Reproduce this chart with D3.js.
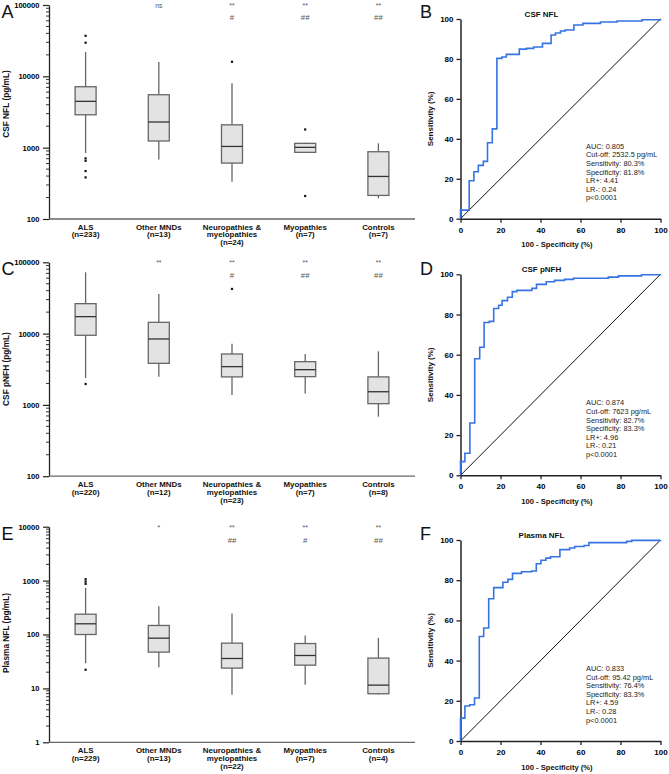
<!DOCTYPE html>
<html><head><meta charset="utf-8">
<script src="https://cdn.jsdelivr.net/npm/d3@7"></script>
<style>
body{margin:0;background:#fff;}
svg{display:block;font-family:"Liberation Sans",Arial,sans-serif;}
</style></head>
<body>
<svg id="chart" width="669" height="774"></svg>
<script>
// ---------- DATA ----------
const categoryLines = [["ALS"],["Other MNDs"],["Neuropathies &","myelopathies"],["Myopathies"],["Controls"]];
const nCsfNfl   = ["(n=233)","(n=13)","(n=24)","(n=7)","(n=7)"];
const nCsfPnfh  = ["(n=220)","(n=12)","(n=23)","(n=7)","(n=8)"];
const nPlasmaNfl= ["(n=229)","(n=13)","(n=22)","(n=7)","(n=4)"];

// [whisker low, Q1, median, Q3, whisker high]
const csfNflBoxes = [[840,2890,4460,7150,21900],[685,1240,2290,5520,15900],[333,608,1040,2090,7980],[850,860,1010,1150,1170],[195,214,395,877,1150]];
const csfNflOutliers = [[37000,29600,708,655,470,383],[],[16000],[1800,210],[]];
const csfPnfhBoxes = [[2380,9470,17300,26300,72400],[2490,3830,8410,14400,36000],[1380,2470,3440,5180,7230],[1440,2490,3120,4040,5180],[684,1040,1530,2470,5650]];
const csfPnfhOutliers = [[1965],[],[42300],[],[]];
const plasmaNflBoxes = [[29.4,100,158,238,731],[24.8,47.1,85.5,147,335],[7.64,23.8,35.9,69.1,245],[11.7,27,40.8,68,95.8],[7.7,7.96,11.5,36.5,86.7]];
const plasmaNflOutliers = [[1060,960,870,22.2],[],[],[],[]];

const sigStarsA = ["","ns","**","**","**"], sigHashA = ["","","#","##","##"];
const sigStarsC = ["","**","**","**","**"], sigHashC = ["","","#","##","##"];
const sigStarsE = ["","*","**","**","**"],  sigHashE = ["","","##","#","##"];

const ticksCsf = [100,1000,10000,100000];
const ticksPlasma = [1,10,100,1000,10000];

// ROC step points (100 - specificity, sensitivity)
const rocCsfNflFpr = [0,0,4.35,6.7,8.9,11.4,13.5,15.9,18.2,20.7,22.9,29.4,33,36.6,41,45.3,47.5,50,52.3,56.7,61.2,70,78.3,90.8,100];
const rocCsfNflTpr = [0,4.3,19,23.5,26.7,28.7,38,45,80.3,81,82.3,84.9,85.3,86,87.8,92,93,94,94.5,97,97.8,98.5,99,99.6,100];
const rocCsfPnfhFpr = [0,0,2.2,4.7,7.1,9.6,11.8,14.4,16.6,19.1,20.8,23.5,25.9,28.2,35.7,38,42.9,47,52,56.5,73.9,79,90.5,100];
const rocCsfPnfhTpr = [0,6.8,11,26,58,63.7,76,76.6,83,84.6,86.9,88.6,91.4,92,93,95,96.3,97,97.5,98,98.6,99.2,99.8,100];
const rocPlasmaNflFpr = [0,0,2.2,4.6,7,9.4,11.6,14.1,16.6,21.2,23.7,26,30.5,35.6,37.9,40.2,42.7,45,49.7,54.6,57.1,61.8,64.2,83.1,85.6,100];
const rocPlasmaNflTpr = [0,11.4,17.4,18,21.4,52,56.2,70.8,76.3,79,80.4,83.4,84.2,84.6,88.2,89.9,91,91.7,95.2,96,96.8,97.3,98.7,99.3,99.8,100];
const rocTicks = [0,20,40,60,80,100];

const statsCsfNfl = ["AUC: 0.805","Cut-off: 2532.5 pg/mL","Sensitivity: 80.3%","Specificity: 81.8%","LR+: 4.41","LR-: 0.24","p<0.0001"];
const statsCsfPnfh = ["AUC: 0.874","Cut-off: 7623 pg/mL","Sensitivity: 82.7%","Specificity: 83.3%","LR+: 4.96","LR-: 0.21","p<0.0001"];
const statsPlasmaNfl = ["AUC: 0.833","Cut-off: 95.42 pg/mL","Sensitivity: 76.4%","Specificity: 83.3%","LR+: 4.59","LR-: 0.28","p<0.0001"];

// ---------- DRAW ----------
const svg = d3.select("#chart");

function boxPanel(o){
  const g = svg.append("g");
  const x = d3.scaleBand().domain(d3.range(5)).range([49,415]);
  const y = d3.scaleLog().domain(o.domain).range([o.bottom,o.top]);
  const bw = 21;
  const minors = [];
  for(let d=o.domain[0]; d<o.domain[1]; d*=10){ for(let k=2;k<10;k++) minors.push(d*k); }
  g.selectAll(".minor").data(minors).join("line")
    .attr("x1",46).attr("x2",49).attr("y1",d=>y(d)).attr("y2",d=>y(d))
    .attr("stroke","#333").attr("stroke-width",1);
  const ya = d3.axisLeft(y).tickValues(o.ticks).tickFormat(d3.format("d")).tickSize(6).tickSizeOuter(0);
  const ag = g.append("g").attr("transform","translate(49,0)").call(ya);
  ag.select(".domain").attr("stroke","#222").attr("stroke-width",1.3);
  ag.selectAll(".tick line").attr("stroke","#222").attr("stroke-width",1.2);
  ag.selectAll("text").attr("font-size",7.6).attr("font-weight","bold").attr("fill","#000").attr("dx",-0.5);
  g.append("line").attr("x1",49).attr("x2",415).attr("y1",o.bottom).attr("y2",o.bottom)
    .attr("stroke","#666").attr("stroke-width",1.3);
  categoryLines.forEach((lines,i)=>{
    const all = lines.concat([o.ns[i]]);
    all.forEach((t,j)=>{
      g.append("text").attr("x",x(i)+x.bandwidth()/2).attr("y",o.bottom+10.5+j*7.9)
        .attr("text-anchor","middle").attr("font-size",7.9).attr("font-weight","bold").attr("fill","#111").text(t);
    });
  });
  o.boxes.forEach((b,i)=>{
    const cx = x(i)+x.bandwidth()/2;
    const [lo,q1,md,q3,hi] = b;
    g.append("line").attr("x1",cx).attr("x2",cx).attr("y1",y(hi)).attr("y2",y(q3)).attr("stroke","#666").attr("stroke-width",1.3);
    g.append("line").attr("x1",cx).attr("x2",cx).attr("y1",y(q1)).attr("y2",y(lo)).attr("stroke","#666").attr("stroke-width",1.3);
    g.append("rect").attr("x",cx-bw/2).attr("width",bw).attr("y",y(q3)).attr("height",y(q1)-y(q3))
      .attr("fill","#e3e3e3").attr("stroke","#666").attr("stroke-width",1.3);
    g.append("line").attr("x1",cx-bw/2).attr("x2",cx+bw/2).attr("y1",y(md)).attr("y2",y(md)).attr("stroke","#333").attr("stroke-width",1.3);
    o.outliers[i].forEach(v=>{
      g.append("rect").attr("x",cx-1.1).attr("y",y(v)-1.1).attr("width",2.2).attr("height",2.2).attr("fill","#111");
    });
    g.append("text").attr("x",cx).attr("y",o.top+2.5+o.starDy).attr("text-anchor","middle").attr("font-size",6.8).attr("fill","#555").text(o.stars[i]);
    g.append("text").attr("x",cx).attr("y",o.top+2.5+o.starDy+12.7).attr("text-anchor","middle").attr("font-size",7.8).attr("fill","#555").text(o.hashes[i]);
  });
  g.append("text").attr("transform",`translate(9,${o.labelY}) rotate(-90)`).attr("text-anchor","middle")
    .attr("font-size",8.3).attr("font-weight","bold").attr("fill","#111").text(o.ylabel);
  svg.append("text").attr("x",1.5).attr("y",o.top+13).attr("font-size",18).attr("fill","#111").text(o.letter);
}

function rocPanel(o){
  const g = svg.append("g");
  const x = d3.scaleLinear().domain([0,100]).range([460.5,660.5]);
  const y = d3.scaleLinear().domain([0,100]).range([o.bottom,o.top]);
  const xa = d3.axisBottom(x).tickValues(rocTicks).tickSize(4).tickSizeOuter(0);
  const ya = d3.axisLeft(y).tickValues(rocTicks).tickSize(4).tickSizeOuter(0);
  const xg = g.append("g").attr("transform",`translate(0,${o.bottom})`).call(xa);
  const yg = g.append("g").attr("transform","translate(460.5,0)").call(ya);
  [xg,yg].forEach(a=>{
    a.select(".domain").attr("stroke","#222").attr("stroke-width",1.5);
    a.selectAll(".tick line").attr("stroke","#222").attr("stroke-width",1.3);
    a.selectAll("text").attr("font-size",8).attr("font-weight","bold").attr("fill","#000");
  });
  xg.selectAll("text").attr("dy","0.9em");
  g.append("line").attr("x1",x(0)).attr("y1",y(0)).attr("x2",x(100)).attr("y2",y(100)).attr("stroke","#111").attr("stroke-width",1);
  const pts = o.fpr.map((v,i)=>[v,o.tpr[i]]);
  g.append("path").datum(pts).attr("d",d3.line().x(d=>x(d[0])).y(d=>y(d[1])).curve(d3.curveStepAfter))
    .attr("fill","none").attr("stroke","#3673e3").attr("stroke-width",1.6);
  g.append("text").attr("x",541.5).attr("y",o.top-2).attr("text-anchor","middle").attr("font-size",8)
    .attr("font-weight","bold").attr("fill","#111").text(o.title);
  g.append("text").attr("x",557).attr("y",o.bottom+28.5).attr("text-anchor","middle").attr("font-size",7.6)
    .attr("font-weight","bold").attr("fill","#111").text("100 - Specificity (%)");
  g.append("text").attr("transform",`translate(433,${(o.top+o.bottom)/2}) rotate(-90)`).attr("text-anchor","middle")
    .attr("font-size",8).attr("font-weight","bold").attr("fill","#111").text("Sensitivity (%)");
  o.stats.forEach((t,i)=>{
    g.append("text").attr("x",586).attr("y",o.bottom-70+i*8.6).attr("font-size",7.4).attr("fill","#222").text(t);
  });
  svg.append("text").attr("x",420).attr("y",o.letterY).attr("font-size",18).attr("fill","#111").text(o.letter);
}

boxPanel({letter:"A",top:5,bottom:219,domain:[100,100000],ticks:ticksCsf,boxes:csfNflBoxes,outliers:csfNflOutliers,
  ns:nCsfNfl,stars:sigStarsA,hashes:sigHashA,starDy:0,ylabel:"CSF NFL (pg/mL)",labelY:104});
boxPanel({letter:"C",top:262.3,bottom:476.2,domain:[100,100000],ticks:ticksCsf,boxes:csfPnfhBoxes,outliers:csfPnfhOutliers,
  ns:nCsfPnfh,stars:sigStarsC,hashes:sigHashC,starDy:0,ylabel:"CSF pNFH (pg/mL)",labelY:369});
boxPanel({letter:"E",top:526.7,bottom:742.3,domain:[1,10000],ticks:ticksPlasma,boxes:plasmaNflBoxes,outliers:plasmaNflOutliers,
  ns:nPlasmaNfl,stars:sigStarsE,hashes:sigHashE,starDy:1,ylabel:"Plasma NFL (pg/mL)",labelY:633});

rocPanel({letter:"B",letterY:18,top:19,bottom:218.7,fpr:rocCsfNflFpr,tpr:rocCsfNflTpr,title:"CSF NFL",stats:statsCsfNfl});
rocPanel({letter:"D",letterY:275,top:274.3,bottom:475.3,fpr:rocCsfPnfhFpr,tpr:rocCsfPnfhTpr,title:"CSF pNFH",stats:statsCsfPnfh});
rocPanel({letter:"F",letterY:540,top:540,bottom:741,fpr:rocPlasmaNflFpr,tpr:rocPlasmaNflTpr,title:"Plasma NFL",stats:statsPlasmaNfl});
</script>
</body></html>
